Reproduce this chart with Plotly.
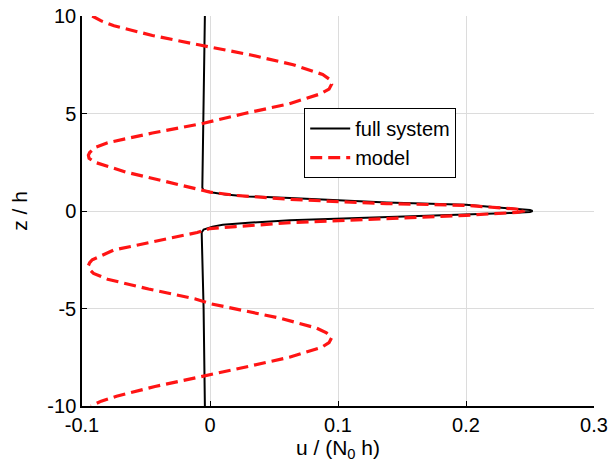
import plotly.graph_objects as go

# full system (black solid)
full_z = [10.0, 5.0, 1.2, 1.05, 0.95, 0.85, 0.75, 0.67, 0.55, 0.43, 0.32, 0.15, 0.05, 0.0,
          -0.05, -0.1, -0.18, -0.31, -0.4, -0.48, -0.6, -0.7, -0.8, -0.95, -1.1, -5.0, -10.0]
full_u = [-0.004, -0.005, -0.006, -0.005, 0.002, 0.012, 0.03, 0.0625, 0.10, 0.138, 0.20, 0.235, 0.25, 0.252,
          0.25, 0.235, 0.20, 0.138, 0.10, 0.0625, 0.03, 0.01, 0.002, -0.005, -0.0065, -0.005, -0.004]

# model (red dashed)
model_z = [10.0, 9.75, 9.5, 9.0, 8.5, 8.0, 7.5, 7.0, 6.75, 6.5, 6.25, 6.0, 5.5, 5.0, 4.5, 4.0, 3.5,
           3.25, 3.0, 2.86, 2.7, 2.5, 2.0, 1.5,
           1.1, 1.0, 0.97, 0.8, 0.6, 0.45, 0.38, 0.29, 0.15, 0.07, 0.0, -0.07, -0.22, -0.39, -0.6, -0.8,
           -0.9, -1.1, -1.5, -2.0, -2.5, -2.65, -2.8, -3.0, -3.2, -3.5, -4.0, -4.5, -4.75, -5.0, -5.5,
           -6.0, -6.25, -6.5, -6.75, -7.0, -7.5, -8.0, -8.4, -8.5, -9.0, -9.5, -9.75, -10.0]
model_u = [-0.092, -0.085, -0.075, -0.045, -0.007, 0.032, 0.065, 0.088, 0.0935, 0.095, 0.093, 0.086,
           0.062, 0.027, -0.005, -0.045, -0.080, -0.090, -0.094, -0.095, -0.0945, -0.090, -0.066, -0.035,
           -0.010, -0.004, 0.0, 0.02, 0.0625, 0.11, 0.138,
           0.20, 0.23, 0.245, 0.245, 0.24, 0.20, 0.138, 0.0625, 0.02, 0.0, -0.010, -0.040, -0.075, -0.092,
           -0.094, -0.095, -0.094, -0.091, -0.080, -0.048, -0.012, 0.0, 0.018, 0.055, 0.083, 0.091, 0.095,
           0.093, 0.087, 0.062, 0.028, 0.0, -0.006, -0.043, -0.073, -0.085, -0.093]

x_ticks = [-0.1, 0, 0.1, 0.2, 0.3]
x_labels = ["-0.1", "0", "0.1", "0.2", "0.3"]
y_ticks = [-10, -5, 0, 5, 10]
y_labels = ["-10", "-5", "0", "5", "10"]

fig = go.Figure()
fig.add_trace(go.Scatter(x=full_u, y=full_z, mode="lines", name="full system",
                         line=dict(color="black", width=2)))
fig.add_trace(go.Scatter(x=model_u, y=model_z, mode="lines", name="model",
                         line=dict(color="#ff1414", width=3.2, dash="12px,6px")))

font = "Liberation Sans, Arial, sans-serif"
fig.update_layout(
    width=611, height=470,
    margin=dict(l=82, r=17, t=16, b=64, autoexpand=False),
    paper_bgcolor="white", plot_bgcolor="white",
    font=dict(family=font, size=20, color="black"),
    showlegend=True,
    legend=dict(x=0.434, y=0.764, xanchor="left", yanchor="top",
                bgcolor="white", bordercolor="black", borderwidth=1,
                font=dict(size=20), tracegroupgap=0, itemwidth=40),
    xaxis=dict(range=[-0.1, 0.3], tickvals=x_ticks, ticktext=x_labels,
               showgrid=True, gridcolor="#dcdcdc", gridwidth=1, zeroline=False,
               showline=True, linecolor="black", linewidth=1.5, mirror=False,
               ticks="inside", ticklen=5, tickcolor="black", automargin=False,
               ticklabeloverflow="allow",
               title=dict(text="u / (N<sub>0</sub> h)", font=dict(size=21), standoff=2)),
    yaxis=dict(range=[-10, 10], tickvals=y_ticks, ticktext=y_labels,
               showgrid=True, gridcolor="#dcdcdc", gridwidth=1, zeroline=False,
               showline=True, linecolor="black", linewidth=1.5, mirror=False,
               ticks="inside", ticklen=5, tickcolor="black", automargin=False,
               ticklabeloverflow="allow",
               title=dict(text="z / h", font=dict(size=21), standoff=14)),
)

# remove the default 8px page margin so the figure sits at the window's corner
fig.write_html("out.html", config={"displayModeBar": False},
               post_script="document.body.style.margin='0';")
